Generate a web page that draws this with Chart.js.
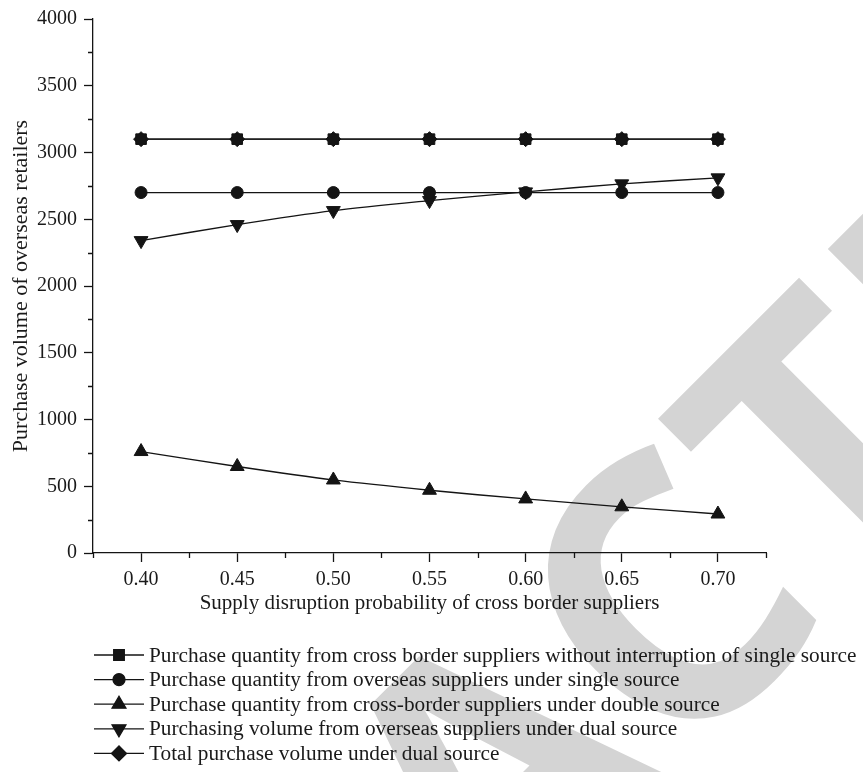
<!DOCTYPE html>
<html>
<head>
<meta charset="utf-8">
<script src="https://cdn.jsdelivr.net/npm/chart.js@4.4.1/dist/chart.umd.min.js"></script>
<style>
  html, body { margin: 0; padding: 0; background: #fff; }
</style>
</head>
<body>
<canvas id="mycanvas" width="863" height="772"></canvas>
<script>
// data
var probs = [0.40, 0.45, 0.50, 0.55, 0.60, 0.65, 0.70];
var crossNoInterruptSingle = [3100, 3100, 3100, 3100, 3100, 3100, 3100];
var overseasSingle = [2700, 2700, 2700, 2700, 2700, 2700, 2700];
var crossBorderDouble = [760, 648, 547, 470, 405, 346, 292];
var overseasDual = [2340, 2460, 2565, 2640, 2705, 2765, 2810];
var totalDual = [3100, 3100, 3100, 3100, 3100, 3100, 3100];

var seriesNames = [
    "Purchase quantity from cross border suppliers without interruption of single source",
    "Purchase quantity from overseas suppliers under single source",
    "Purchase quantity from cross-border suppliers under double source",
    "Purchasing volume from overseas suppliers under dual source",
    "Total purchase volume under dual source"
];

var xTicks = [0.40, 0.45, 0.50, 0.55, 0.60, 0.65, 0.70];
var xMinorTicks = [0.375, 0.425, 0.475, 0.525, 0.575, 0.625, 0.675, 0.725];
var yTicks = [0, 500, 1000, 1500, 2000, 2500, 3000, 3500, 4000];
var yMinorTicks = [250, 750, 1250, 1750, 2250, 2750, 3250, 3750];

var ink = "#141414";
var serif = "'Liberation Serif', 'DejaVu Serif', serif";

function toPoints(vals) {
    return vals.map(function (v, i) { return { x: probs[i], y: v }; });
}

function makeSet(label, vals, style, radius, rot) {
    return {
        label: label,
        data: toPoints(vals),
        borderColor: ink,
        backgroundColor: ink,
        borderWidth: 1.3,
        pointStyle: style,
        pointRadius: radius,
        pointRotation: rot || 0,
        pointBackgroundColor: ink,
        pointBorderColor: ink,
        pointBorderWidth: 1,
        tension: 0.3,
        fill: false
    };
}

var chartdata = {
    datasets: [
        makeSet(seriesNames[0], crossNoInterruptSingle, "rect", 7.5),
        makeSet(seriesNames[1], overseasSingle, "circle", 6),
        makeSet(seriesNames[2], crossBorderDouble, "triangle", 8),
        makeSet(seriesNames[3], overseasDual, "triangle", 8, 180),
        makeSet(seriesNames[4], totalDual, "rectRot", 7.5)
    ]
};

// grey diagonal stamp behind everything
var watermark = {
    id: "watermark",
    beforeDraw: function (chart) {
        var ctx = chart.ctx;
        var size = 370;
        ctx.save();
        ctx.font = "bold " + size + "px 'Open Sans', 'Liberation Sans', sans-serif";
        ctx.fillStyle = "#d4d4d4";
        var pre = ctx.measureText("RETRA").width;
        var wc = ctx.measureText("C").width;
        ctx.translate(662, 600);
        ctx.rotate(-Math.PI / 4);
        ctx.textBaseline = "alphabetic";
        ctx.fillText("RETRACTED", -(pre + wc / 2), size * 0.36);
        ctx.restore();
    }
};

// short unlabeled ticks between the labeled ones
var minorTicks = {
    id: "minorTicks",
    afterDraw: function (chart) {
        var ctx = chart.ctx;
        var xs = chart.scales.x, ys = chart.scales.y;
        var area = chart.chartArea;
        ctx.save();
        ctx.strokeStyle = ink;
        ctx.lineWidth = 1.3;
        ctx.beginPath();
        yMinorTicks.forEach(function (v) {
            var py = Math.round(ys.getPixelForValue(v)) + 0.5;
            ctx.moveTo(area.left - 5, py);
            ctx.lineTo(area.left, py);
        });
        xMinorTicks.forEach(function (v) {
            var px = Math.round(xs.getPixelForValue(v)) + 0.5;
            ctx.moveTo(px, area.bottom);
            ctx.lineTo(px, area.bottom + 5);
        });
        ctx.stroke();
        ctx.restore();
    }
};

// legend below the axis: line with marker, then label
var lineLegend = {
    id: "lineLegend",
    afterDraw: function (chart) {
        var ctx = chart.ctx;
        ctx.save();
        ctx.font = "21.3px " + serif;
        ctx.textBaseline = "middle";
        ctx.textAlign = "left";
        chart.data.datasets.forEach(function (ds, i) {
            var y = 655 + i * 24.6;
            ctx.strokeStyle = ink;
            ctx.lineWidth = 1.3;
            ctx.beginPath();
            ctx.moveTo(94, y);
            ctx.lineTo(144, y);
            ctx.stroke();
            ctx.fillStyle = ink;
            Chart.helpers.drawPoint(ctx, {
                pointStyle: ds.pointStyle,
                rotation: ds.pointRotation,
                radius: ds.pointRadius,
                borderWidth: 1
            }, 119, y);
            ctx.fillStyle = "#1a1a1a";
            ctx.fillText(ds.label, 149, y + 1);
        });
        ctx.restore();
    }
};

var options = {
    responsive: false,
    animation: false,
    layout: { padding: { top: 13, right: 97, bottom: 157, left: 0 } },
    plugins: {
        legend: { display: false },
        tooltip: { enabled: false }
    },
    scales: {
        x: {
            type: "linear",
            min: 0.375,
            max: 0.725,
            afterBuildTicks: function (scale) {
                scale.ticks = xTicks.map(function (v) { return { value: v }; });
            },
            afterFit: function (scale) { scale.height = 62; },
            border: { display: true, color: ink, width: 1.3 },
            grid: { drawOnChartArea: false, drawTicks: true, tickLength: 9, color: ink, tickWidth: 1.3 },
            ticks: {
                color: "#1a1a1a",
                padding: 6,
                maxRotation: 0,
                font: { family: serif, size: 20 },
                callback: function (v) { return Number(v).toFixed(2); }
            },
            title: {
                display: true,
                text: "Supply disruption probability of cross border suppliers",
                color: "#1a1a1a",
                font: { family: serif, size: 21 },
                padding: { top: 0, bottom: -1 }
            }
        },
        y: {
            min: 0,
            max: 4000,
            afterBuildTicks: function (scale) {
                scale.ticks = yTicks.map(function (v) { return { value: v }; });
            },
            afterFit: function (scale) { scale.width = 93; },
            border: { display: true, color: ink, width: 1.3 },
            grid: { drawOnChartArea: false, drawTicks: true, tickLength: 9, color: ink, tickWidth: 1.3 },
            ticks: {
                color: "#1a1a1a",
                padding: 7,
                font: { family: serif, size: 20 },
                callback: function (v) { return String(v); }
            },
            title: {
                display: true,
                text: "Purchase volume of overseas retailers",
                color: "#1a1a1a",
                font: { family: serif, size: 22 },
                padding: { top: 8, bottom: 0 }
            }
        }
    }
};

var ctx = document.getElementById("mycanvas");
var lineGraph = new Chart(ctx, {
    type: "line",
    data: chartdata,
    options: options,
    plugins: [watermark, minorTicks, lineLegend]
});
</script>
</body>
</html>
